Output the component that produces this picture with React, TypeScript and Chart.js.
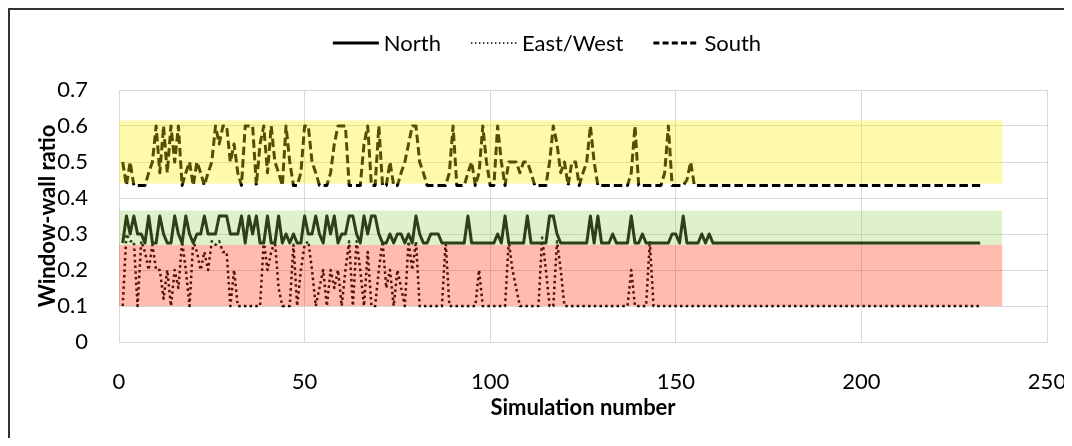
import React, { useEffect, useRef } from "react";
import { Chart, registerables } from "chart.js";

Chart.register(...registerables);

// ---------- DATA ----------
const seriesNames = ["North", "East/West", "South"];

// Window-wall ratio per simulation number (1..232)
const north = [
  0.275, 0.35, 0.3, 0.35, 0.3, 0.3, 0.275, 0.35, 0.275, 0.275,
  0.35, 0.3, 0.275, 0.275, 0.35, 0.3, 0.275, 0.35, 0.3, 0.275,
  0.3, 0.3, 0.35, 0.3, 0.3, 0.3, 0.35, 0.35, 0.35, 0.3,
  0.3, 0.3, 0.35, 0.275, 0.35, 0.3, 0.35, 0.275, 0.275, 0.35,
  0.275, 0.275, 0.35, 0.275, 0.3, 0.275, 0.3, 0.275, 0.275, 0.35,
  0.3, 0.3, 0.35, 0.3, 0.275, 0.35, 0.3, 0.35, 0.275, 0.3,
  0.3, 0.35, 0.35, 0.3, 0.275, 0.35, 0.3, 0.35, 0.35, 0.3,
  0.275, 0.275, 0.3, 0.275, 0.3, 0.3, 0.275, 0.3, 0.275, 0.35,
  0.3, 0.275, 0.275, 0.3, 0.3, 0.3, 0.275, 0.275, 0.275, 0.275,
  0.275, 0.275, 0.275, 0.35, 0.275, 0.275, 0.275, 0.275, 0.275, 0.275,
  0.275, 0.3, 0.275, 0.35, 0.275, 0.275, 0.275, 0.275, 0.275, 0.35,
  0.275, 0.275, 0.275, 0.275, 0.275, 0.35, 0.35, 0.3, 0.275, 0.275,
  0.275, 0.275, 0.275, 0.275, 0.275, 0.275, 0.35, 0.275, 0.35, 0.275,
  0.275, 0.275, 0.3, 0.275, 0.275, 0.275, 0.275, 0.35, 0.275, 0.275,
  0.3, 0.275, 0.275, 0.275, 0.275, 0.275, 0.275, 0.275, 0.3, 0.3,
  0.275, 0.35, 0.275, 0.275, 0.275, 0.275, 0.3, 0.275, 0.3, 0.275,
  0.275, 0.275, 0.275, 0.275, 0.275, 0.275, 0.275, 0.275, 0.275, 0.275,
  0.275, 0.275, 0.275, 0.275, 0.275, 0.275, 0.275, 0.275, 0.275, 0.275,
  0.275, 0.275, 0.275, 0.275, 0.275, 0.275, 0.275, 0.275, 0.275, 0.275,
  0.275, 0.275, 0.275, 0.275, 0.275, 0.275, 0.275, 0.275, 0.275, 0.275,
  0.275, 0.275, 0.275, 0.275, 0.275, 0.275, 0.275, 0.275, 0.275, 0.275,
  0.275, 0.275, 0.275, 0.275, 0.275, 0.275, 0.275, 0.275, 0.275, 0.275,
  0.275, 0.275, 0.275, 0.275, 0.275, 0.275, 0.275, 0.275, 0.275, 0.275,
  0.275, 0.275,
];

const eastWest = [
  0.1, 0.3, 0.28, 0.28, 0.1, 0.28, 0.25, 0.2, 0.27, 0.2,
  0.2, 0.12, 0.2, 0.1, 0.2, 0.15, 0.28, 0.2, 0.1, 0.28,
  0.25, 0.2, 0.25, 0.2, 0.28, 0.27, 0.28, 0.25, 0.25, 0.1,
  0.2, 0.1, 0.1, 0.1, 0.1, 0.1, 0.1, 0.1, 0.28, 0.2,
  0.25, 0.28, 0.15, 0.1, 0.1, 0.1, 0.27, 0.1, 0.2, 0.27,
  0.28, 0.2, 0.1, 0.15, 0.2, 0.1, 0.2, 0.15, 0.2, 0.1,
  0.2, 0.28, 0.1, 0.28, 0.2, 0.1, 0.25, 0.1, 0.1, 0.2,
  0.28, 0.15, 0.2, 0.1, 0.2, 0.15, 0.1, 0.28, 0.2, 0.28,
  0.1, 0.1, 0.1, 0.1, 0.1, 0.1, 0.1, 0.28, 0.1, 0.1,
  0.1, 0.1, 0.1, 0.1, 0.1, 0.1, 0.2, 0.1, 0.1, 0.1,
  0.1, 0.1, 0.1, 0.1, 0.28, 0.2, 0.15, 0.1, 0.1, 0.1,
  0.1, 0.1, 0.1, 0.29, 0.2, 0.1, 0.1, 0.28, 0.2, 0.1,
  0.1, 0.1, 0.1, 0.1, 0.1, 0.1, 0.1, 0.1, 0.1, 0.1,
  0.1, 0.1, 0.1, 0.1, 0.1, 0.1, 0.1, 0.2, 0.1, 0.1,
  0.1, 0.1, 0.28, 0.1, 0.1, 0.1, 0.1, 0.1, 0.1, 0.1,
  0.1, 0.1, 0.1, 0.1, 0.1, 0.1, 0.1, 0.1, 0.1, 0.1,
  0.1, 0.1, 0.1, 0.1, 0.1, 0.1, 0.1, 0.1, 0.1, 0.1,
  0.1, 0.1, 0.1, 0.1, 0.1, 0.1, 0.1, 0.1, 0.1, 0.1,
  0.1, 0.1, 0.1, 0.1, 0.1, 0.1, 0.1, 0.1, 0.1, 0.1,
  0.1, 0.1, 0.1, 0.1, 0.1, 0.1, 0.1, 0.1, 0.1, 0.1,
  0.1, 0.1, 0.1, 0.1, 0.1, 0.1, 0.1, 0.1, 0.1, 0.1,
  0.1, 0.1, 0.1, 0.1, 0.1, 0.1, 0.1, 0.1, 0.1, 0.1,
  0.1, 0.1, 0.1, 0.1, 0.1, 0.1, 0.1, 0.1, 0.1, 0.1,
  0.1, 0.1,
];

const south = [
  0.5, 0.435, 0.5, 0.435, 0.435, 0.435, 0.435, 0.47, 0.5, 0.6,
  0.47, 0.6, 0.47, 0.6, 0.5, 0.6, 0.435, 0.47, 0.5, 0.435,
  0.5, 0.47, 0.435, 0.47, 0.5, 0.6, 0.55, 0.6, 0.6, 0.5,
  0.55, 0.47, 0.435, 0.6, 0.6, 0.6, 0.435, 0.55, 0.6, 0.47,
  0.6, 0.5, 0.47, 0.435, 0.6, 0.5, 0.435, 0.435, 0.47, 0.6,
  0.6, 0.5, 0.47, 0.435, 0.435, 0.435, 0.47, 0.55, 0.6, 0.6,
  0.6, 0.435, 0.435, 0.435, 0.435, 0.55, 0.6, 0.435, 0.435, 0.6,
  0.435, 0.435, 0.5, 0.435, 0.435, 0.47, 0.5, 0.55, 0.6, 0.6,
  0.5, 0.47, 0.435, 0.435, 0.435, 0.435, 0.435, 0.435, 0.47, 0.6,
  0.435, 0.435, 0.435, 0.47, 0.5, 0.435, 0.47, 0.6, 0.5, 0.435,
  0.435, 0.6, 0.5, 0.435, 0.5, 0.5, 0.5, 0.47, 0.5, 0.5,
  0.47, 0.435, 0.435, 0.435, 0.435, 0.5, 0.6, 0.55, 0.47, 0.5,
  0.435, 0.5, 0.5, 0.435, 0.47, 0.5, 0.6, 0.5, 0.435, 0.435,
  0.435, 0.435, 0.435, 0.435, 0.435, 0.435, 0.435, 0.47, 0.6, 0.435,
  0.435, 0.435, 0.435, 0.435, 0.435, 0.435, 0.47, 0.6, 0.435, 0.435,
  0.435, 0.435, 0.45, 0.5, 0.435, 0.435, 0.435, 0.435, 0.435, 0.435,
  0.435, 0.435, 0.435, 0.435, 0.435, 0.435, 0.435, 0.435, 0.435, 0.435,
  0.435, 0.435, 0.435, 0.435, 0.435, 0.435, 0.435, 0.435, 0.435, 0.435,
  0.435, 0.435, 0.435, 0.435, 0.435, 0.435, 0.435, 0.435, 0.435, 0.435,
  0.435, 0.435, 0.435, 0.435, 0.435, 0.435, 0.435, 0.435, 0.435, 0.435,
  0.435, 0.435, 0.435, 0.435, 0.435, 0.435, 0.435, 0.435, 0.435, 0.435,
  0.435, 0.435, 0.435, 0.435, 0.435, 0.435, 0.435, 0.435, 0.435, 0.435,
  0.435, 0.435, 0.435, 0.435, 0.435, 0.435, 0.435, 0.435, 0.435, 0.435,
  0.435, 0.435,
];

// Shaded ranges (drawn as translucent bands over the lines)
const bandLow = [0.44, 0.27, 0.1];
const bandHigh = [0.615, 0.365, 0.27];
const bandStart = 0;
const bandEnd = 238;

const xTicks = [0, 50, 100, 150, 200, 250];
const yTicks = [0, 0.1, 0.2, 0.3, 0.4, 0.5, 0.6, 0.7];

const FONT = "Lato, 'Noto Sans', sans-serif";
const FS = 22;

const legendPlugin = {
  id: "lineLegend",
  afterDraw(chart: any) {
    const ctx = chart.ctx;
    const items = chart.data.datasets.filter((d: any) => seriesNames.includes(d.label));
    ctx.save();
    ctx.font = `${FS}px ${FONT}`;
    const lineLen = 46;
    const gap = 5;
    const spacing = 30;
    const widths = items.map((d: any) => lineLen + gap + ctx.measureText(d.label).width);
    const total = widths.reduce((a: number, b: number) => a + b, 0) + spacing * (items.length - 1);
    let x = chart.width / 2 - total / 2 + 6;
    const y = 33;
    items.forEach((d: any, i: number) => {
      ctx.setLineDash(d.legendDash || []);
      ctx.lineWidth = d.legendWidth || d.borderWidth;
      ctx.strokeStyle = "#000";
      ctx.lineCap = "butt";
      ctx.beginPath();
      ctx.moveTo(x, y);
      ctx.lineTo(x + lineLen, y);
      ctx.stroke();
      ctx.setLineDash([]);
      ctx.fillStyle = "#000";
      ctx.textBaseline = "middle";
      ctx.textAlign = "left";
      ctx.fillText(d.label, x + lineLen + gap, y + 1);
      x += widths[i] + spacing;
    });
    ctx.restore();
  },
};

export default function App() {
  const ref = useRef<HTMLCanvasElement | null>(null);

  useEffect(() => {
    document.body.style.overflow = "hidden";
    const toPts = (arr: number[]) => arr.map((v, i) => ({ x: i + 1, y: v }));
    const bandColors = [
      "rgba(255, 240, 0, 0.33)",
      "rgba(146, 208, 80, 0.3)",
      "rgba(255, 50, 10, 0.33)",
    ];
    const bands = bandLow.map((lo, i) => ({
      label: "band" + i,
      data: [
        { x: bandStart, y: bandHigh[i] },
        { x: bandEnd, y: bandHigh[i] },
      ],
      fill: { value: lo },
      backgroundColor: bandColors[i],
      borderWidth: 0,
      borderColor: "rgba(0,0,0,0)",
      pointRadius: 0,
      order: 0,
    }));

    const chart = new Chart(ref.current!, {
      type: "line",
      data: {
        datasets: [
          {
            label: seriesNames[0],
            data: toPts(north),
            borderColor: "#000",
            borderWidth: 3,
            legendWidth: 3,
            pointRadius: 0,
            tension: 0,
            fill: false,
            order: 1,
            borderJoinStyle: "round",
          } as any,
          {
            label: seriesNames[1],
            data: toPts(eastWest),
            borderColor: "#000",
            borderWidth: 2.5,
            borderDash: [2.5, 3.2],
            legendDash: [1.5, 2.5],
            legendWidth: 1.5,
            borderJoinStyle: "round",
            pointRadius: 0,
            tension: 0,
            fill: false,
            order: 1,
          },
          {
            label: seriesNames[2],
            data: toPts(south),
            borderColor: "#000",
            borderWidth: 3,
            borderDash: [8.5, 4],
            legendDash: [6, 3.2],
            legendWidth: 3,
            borderJoinStyle: "round",
            pointRadius: 0,
            tension: 0,
            fill: false,
            order: 1,
          },
          ...bands,
        ],
      },
      options: {
        animation: false,
        responsive: true,
        maintainAspectRatio: false,
        layout: { padding: { top: 80, right: 25, bottom: 0, left: 0 } },
        plugins: {
          legend: { display: false },
          tooltip: { enabled: false },
        },
        scales: {
          x: {
            type: "linear",
            min: 0,
            max: 250,
            afterBuildTicks: (s: any) => {
              s.ticks = xTicks.map((v) => ({ value: v }));
            },
            afterFit: (s: any) => {
              s.height = 96;
              s.paddingLeft = 0;
              s.paddingRight = 0;
            },
            grid: { color: "#d9d9d9", drawTicks: false, lineWidth: 1 },
            border: { color: "#d9d9d9" },
            ticks: {
              color: "#000",
              padding: 27,
              font: { family: FONT, size: FS },
              maxRotation: 0,
            },
            title: {
              display: true,
              text: "Simulation number",
              color: "#000",
              font: { family: FONT, size: FS, weight: "bold" },
              padding: { top: 0, bottom: 17 },
            },
          },
          y: {
            type: "linear",
            min: 0,
            max: 0.7,
            afterBuildTicks: (s: any) => {
              s.ticks = yTicks.map((v) => ({ value: v }));
            },
            afterFit: (s: any) => {
              s.width = 109;
            },
            grid: { color: "#d9d9d9", drawTicks: false, lineWidth: 1 },
            border: { color: "#d9d9d9" },
            ticks: {
              color: "#000",
              padding: 31,
              font: { family: FONT, size: FS },
              callback: (v: any) => String(Math.round(Number(v) * 10) / 10),
            },
            title: {
              display: true,
              text: "Window-wall ratio",
              color: "#000",
              font: { family: FONT, size: FS, weight: "bold" },
              padding: { top: 25, bottom: 0 },
            },
          },
        },
      },
      plugins: [legendPlugin],
    });
    return () => chart.destroy();
  }, []);

  return (
    <div
      style={{
        width: 1064,
        height: 430,
        borderTop: "2px solid #333",
        borderLeft: "2px solid #333",
        boxSizing: "border-box",
        background: "#fff",
      }}
    >
      <div style={{ position: "relative", width: 1062, height: 428 }}>
        <canvas ref={ref} />
      </div>
    </div>
  );
}
